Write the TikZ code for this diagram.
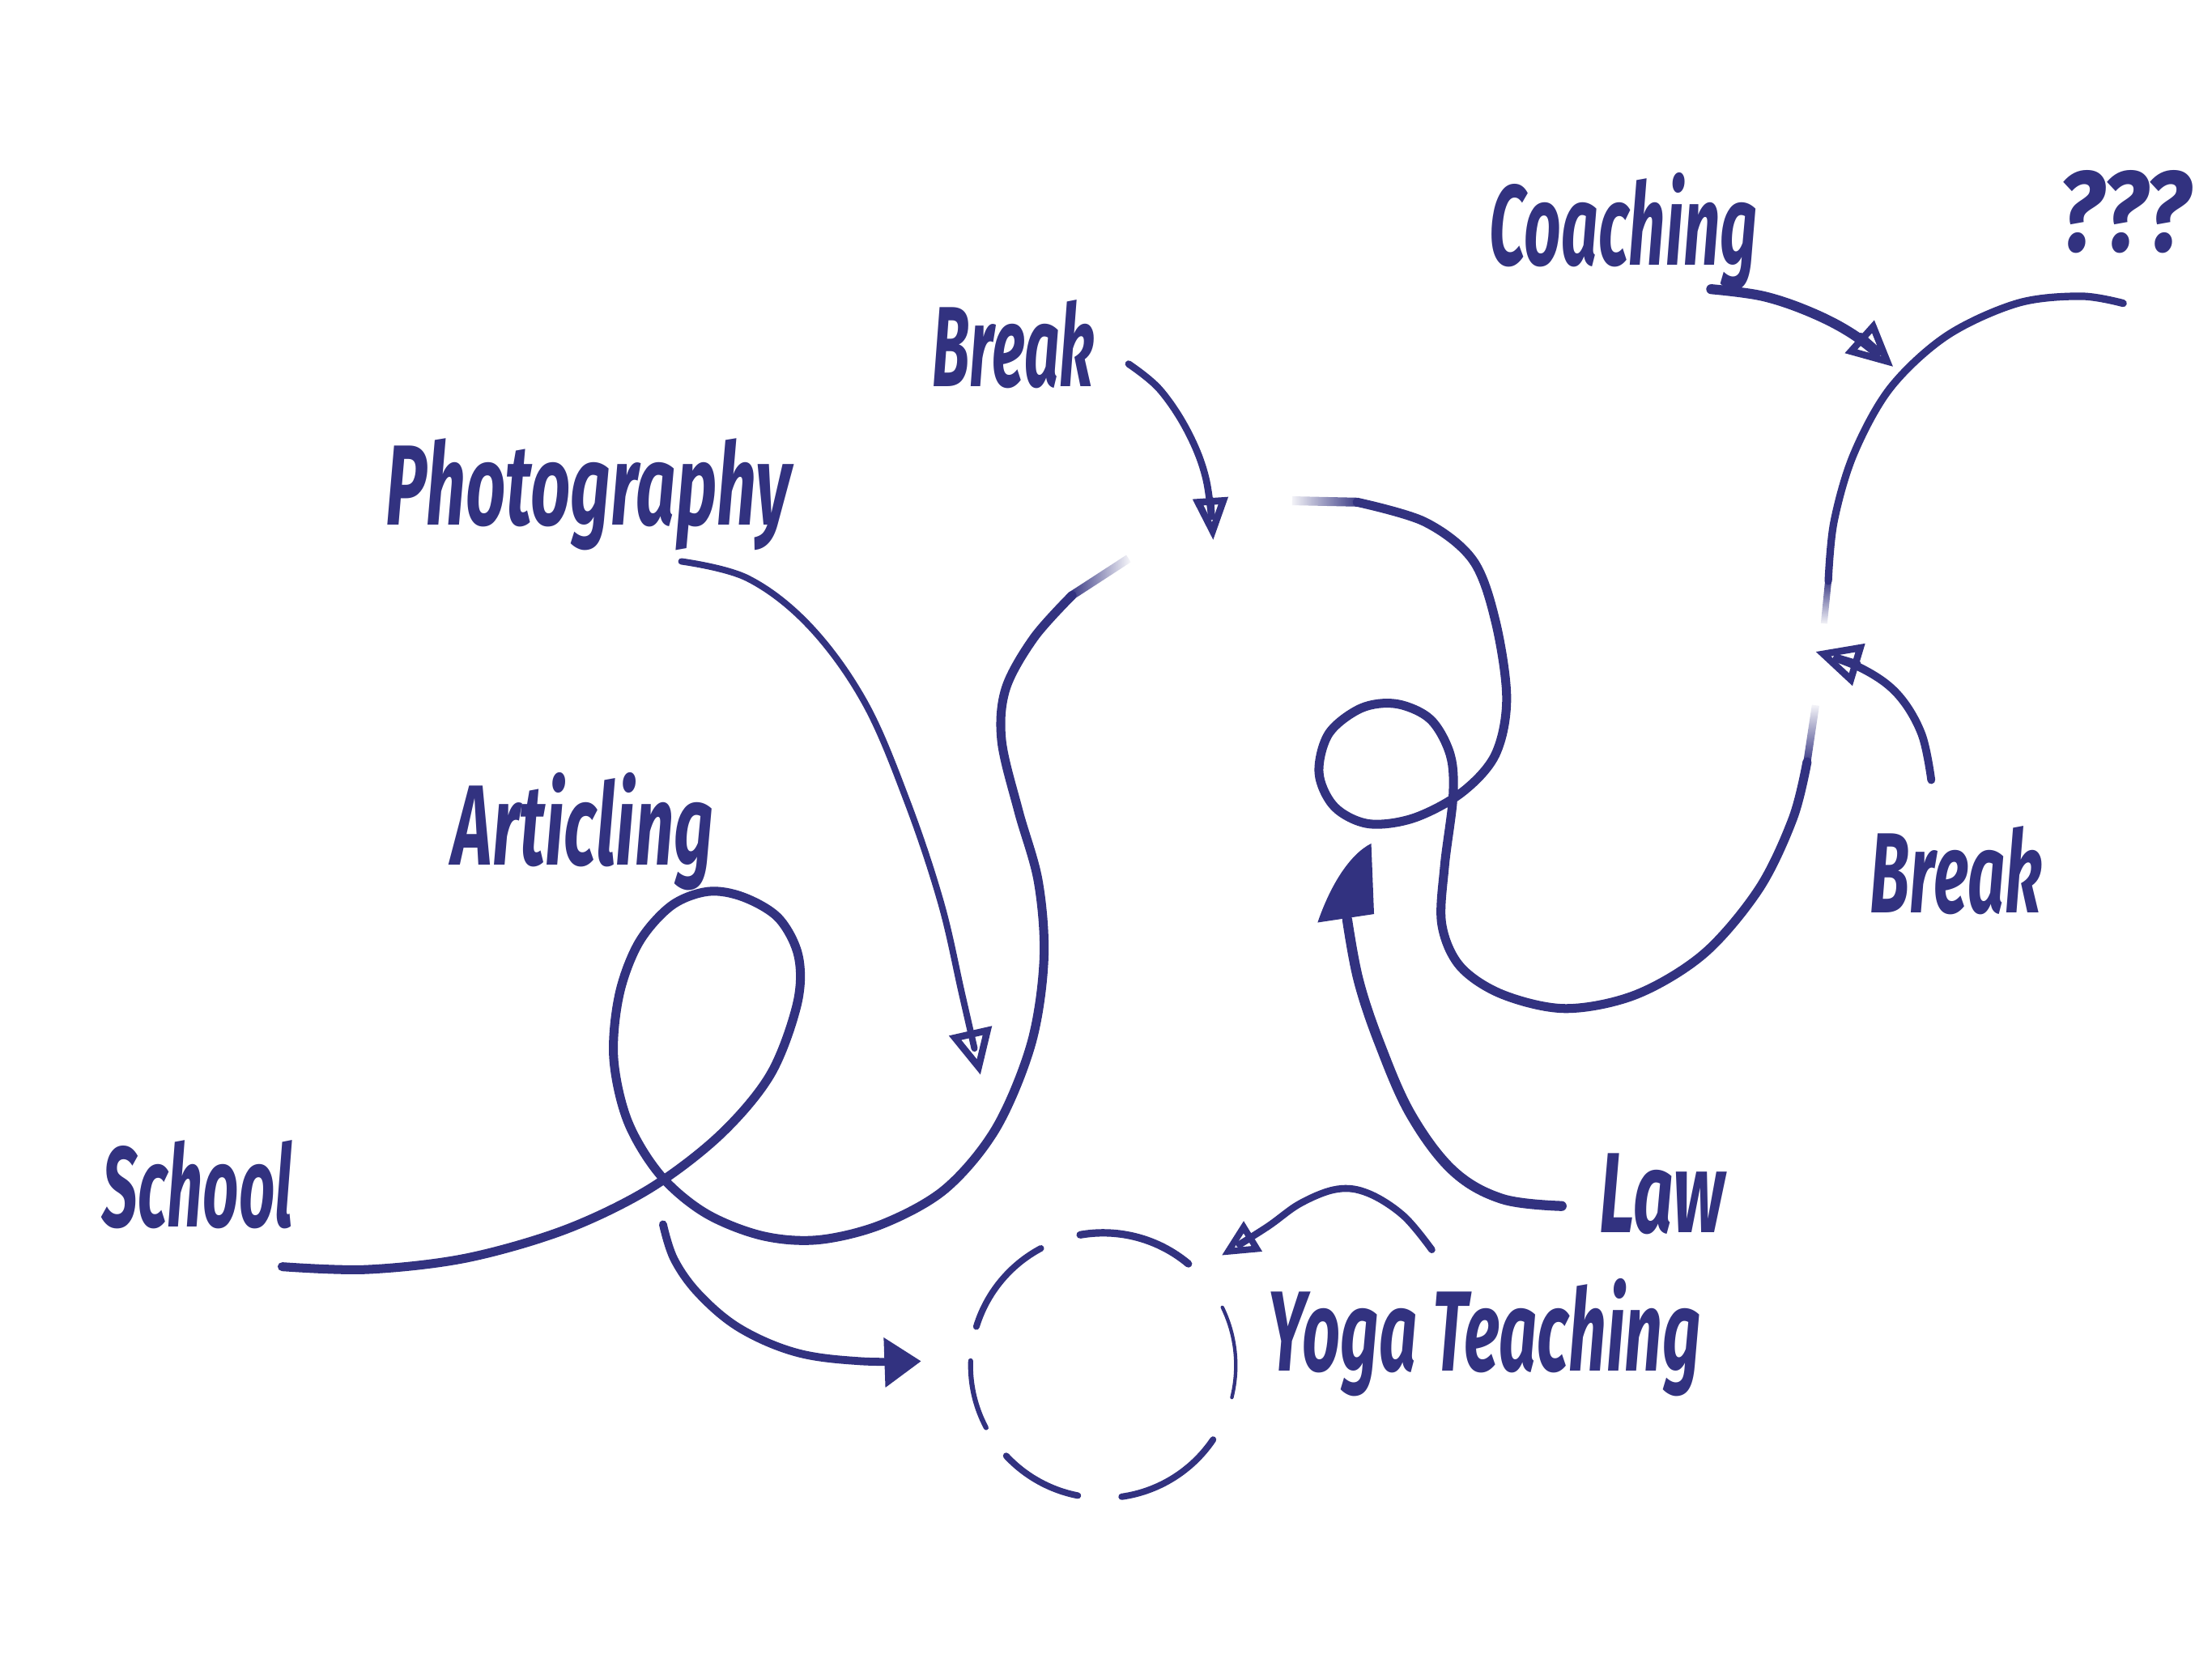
\documentclass[tikz,border=0pt]{standalone}
\usepackage{fontspec}
\setmainfont{Fira Sans}
\usetikzlibrary{arrows.meta,fadings}
\definecolor{ink}{RGB}{50,50,128}
\newcommand\hw[2]{\resizebox{#1}{\height}{\fontsize{23}{27}\selectfont\bfseries\itshape #2}}
\begin{document}
\begin{tikzpicture}[x=0.01cm,y=-0.01cm,
  stroke/.style={draw=ink, line width=1.8pt, line cap=round, line join=round},
  lab/.style={inner sep=0pt, text=ink, anchor=base west},
  openhead/.style={-{Triangle[open, length=3.2mm, width=3mm, line width=1.4pt]}},
  fullhead/.style={-{Triangle[length=2.6mm, width=3.4mm]}},
  circ/.style={draw=ink, line cap=round}]
\fill[white] (0,0) rectangle (1568,1175);
\useasboundingbox (0,0) rectangle (1568,1175);

% labels
\node[lab] (coaching) at (1055,188) {\hw{1.90cm}{Coaching}};
\node[lab] (qqq) at (1458,178) {\hw{0.94cm}{???}};
\node[lab] (breaktop) at (660,274) {\hw{1.15cm}{Break}};
\node[lab] (photo) at (273,372) {\hw{2.87cm}{Photography}};
\node[lab] (artic) at (320,613) {\hw{1.85cm}{Articling}};
\node[lab] (school) at (72,870) {\hw{1.35cm}{School}};
\node[lab] (law) at (1133,874) {\hw{0.89cm}{Law}};
\node[lab] (yoga) at (898,972) {\hw{3.07cm}{Yoga Teaching}};
\node[lab] (breakright) at (1325,647) {\hw{1.22cm}{Break}};

% named ends
\coordinate (schS) at (200,898);
\coordinate (schF) at (760,422);
\coordinate (schE) at (800,396);
\coordinate (artS) at (470,868);
\coordinate (yc) at (782,968);
\coordinate (artE) at (653,965);
\coordinate (phS) at (483,398);
\coordinate (phE) at (695,762);
\coordinate (bkS) at (800,258);
\coordinate (bkE) at (860,383);
\coordinate (sS) at (916,355);
\coordinate (sF) at (962,356);
\coordinate (sL) at (1281,540);
\coordinate (sLf) at (1287,500);
\coordinate (sU) at (1296,412);
\coordinate (sUf) at (1293,442);
\coordinate (qE) at (1505,215);
\coordinate (coS) at (1213,205);
\coordinate (coE) at (1342,260);
\coordinate (brS) at (1369,553);
\coordinate (brE) at (1287,462);
\coordinate (lwS) at (1107,855);
\coordinate (lwE) at (955,652);
\coordinate (ygS) at (1015,886);
\coordinate (ygE) at (866,890);

% School long stroke
\draw[stroke] plot[smooth, tension=0.55] coordinates {(schS) (260,900) (330,892) (400,872) (460,843) (510,805) (546,762) (565,712) (566,678) (552,651) (527,636) (502,632) (476,642) (453,668) (439,705) (435,750) (445,795) (468,833) (500,860) (540,876) (580,879) (625,868) (670,843) (706,800) (731,740) (740,680) (736,625) (722,575) (710,525) (713,488) (733,452) (schF)};
\draw[draw=ink, line width=1.7pt, path fading=east] (schF) -- (schE);

% Articling -> circle
\draw[stroke, line width=1.6pt, fullhead] plot[smooth, tension=0.6] coordinates {(artS) (478,893) (496,918) (525,942) (565,959) (610,965) (artE)};

% Photography
\draw[stroke, line width=1.3pt, openhead] plot[smooth, tension=0.6] coordinates {(phS) (530,410) (574,444) (613,498) (643,568) (667,640) (682,705) (phE)};

% Break (top)
\draw[stroke, line width=1.4pt, -{Triangle[open, length=3mm, width=2.4mm, line width=1.4pt]}] plot[smooth, tension=0.6] coordinates {(bkS) (822,276) (842,306) (855,340) (bkE)};

% Big S loop
\draw[draw=ink, line width=1.8pt, path fading=west] (sS) -- (sF);
\draw[stroke] plot[smooth, tension=0.55] coordinates {(sF) (1010,370) (1044,397) (1060,440) (1068,495) (1060,535) (1036,562) (1002,580) (970,584) (946,572) (935,548) (942,520) (965,502) (990,499) (1014,510) (1028,535) (1030,565) (1024,614) (1022,655) (1035,685) (1065,705) (1110,715) (1160,705) (1208,676) (1247,630) (1271,580) (sL)};
\draw[draw=ink, line width=1.5pt, path fading=north] (sL) -- (sLf);
\draw[draw=ink, line width=1.3pt, path fading=south] (sU) -- (sUf);
\draw[stroke, line width=1.5pt] plot[smooth, tension=0.55] coordinates {(sU) (1300,370) (1314,322) (1340,275) (1380,238) (1430,215) (1475,210) (qE)};

% Coaching
\draw[stroke, line width=2pt, openhead] plot[smooth, tension=0.6] coordinates {(coS) (1250,210) (1285,222) (1315,238) (coE)};

% Break (right)
\draw[stroke, line width=1.6pt, openhead] plot[smooth, tension=0.6] coordinates {(brS) (1362,520) (1345,492) (1320,474) (brE)};

% Law
\draw[stroke, line width=2pt] plot[smooth, tension=0.6] coordinates {(lwS) (1065,850) (1030,830) (1000,790) (978,740) (963,695) (lwE)};
\fill[ink] (934,654) .. controls (944,625) and (958,605) .. (972,598) -- (974,648) -- cycle;

% Yoga small arrow
\draw[stroke, line width=1.4pt, -{Triangle[open, length=2.6mm, width=2.4mm, line width=1.3pt]}] plot[smooth, tension=0.6] coordinates {(ygS) (995,862) (970,846) (948,843) (922,853) (898,870) (ygE)};

% dashed circle
\draw[circ, line width=1.3pt] (yc) ++(-163:94) arc[start angle=-163, end angle=-118, radius=94];
\draw[circ, line width=1.5pt] (yc) ++(-100:94) arc[start angle=-100, end angle=-50, radius=94];
\draw[circ, line width=0.7pt] (yc) ++(-26:94) arc[start angle=-26, end angle=14, radius=94];
\draw[circ, line width=1.3pt] (yc) ++(34:94) arc[start angle=34, end angle=82, radius=94];
\draw[circ, line width=1.3pt] (yc) ++(101:94) arc[start angle=101, end angle=137, radius=94];
\draw[circ, line width=1pt] (yc) ++(152:94) arc[start angle=152, end angle=182, radius=94];
\end{tikzpicture}
\end{document}
